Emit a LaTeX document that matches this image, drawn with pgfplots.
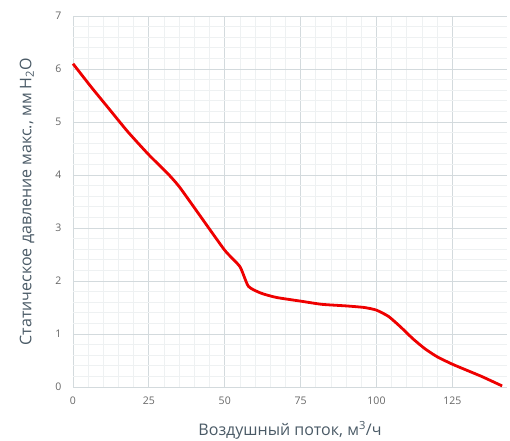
\documentclass[border=0pt]{standalone}
\usepackage{pgfplots}
\pgfplotsset{compat=1.18}
\usepackage{fontspec}
\setmainfont{Open Sans}
\definecolor{tickgray}{HTML}{666666}
\definecolor{labelslate}{HTML}{4A5A66}
\definecolor{gridmajor}{HTML}{D3DADD}
\definecolor{gridminor}{HTML}{EEF1F2}
\definecolor{curvered}{HTML}{EE0000}

\begin{document}
\begin{tikzpicture}
\useasboundingbox (-73bp,-54bp) rectangle (437bp,387bp);
\begin{axis}[
  scale only axis,
  width=434bp, height=371bp,
  xmin=0, xmax=143, ymin=0, ymax=7,
  xtick={0,25,50,75,100,125},
  ytick={0,1,2,3,4,5,6,7},
  minor x tick num=4,
  minor y tick num=4,
  grid=both,
  major grid style={gridmajor, line width=0.9bp},
  minor grid style={gridminor, line width=0.7bp},
  axis line style={draw=none},
  major tick length=0pt, minor tick length=0pt,
  /pgf/number format/assume math mode=true,
  tick label style={font=\fontsize{10.5bp}{12bp}\selectfont, text=tickgray},
  xticklabel style={yshift=-6bp},
  yticklabel style={xshift=-8bp},
  xlabel={Воздушный поток, м\textsuperscript{3}/ч},
  ylabel={Статическое давление макс., мм H\textsubscript{2}O},
  label style={font=\fontsize{16bp}{19bp}\selectfont, text=labelslate},
  xlabel style={at={(axis description cs:0.5,0)}, anchor=center, yshift=-43bp},
  ylabel style={at={(axis description cs:0,0.5)}, anchor=center, yshift=46bp},
  clip=false,
]
\addplot[curvered, line width=2.8bp, smooth, tension=0.35] coordinates {
(0, 6.10)
(6, 5.66)
(12, 5.24)
(18, 4.82)
(25, 4.38)
(31, 4.04)
(35, 3.78)
(42, 3.22)
(50, 2.58)
(55, 2.27)
(57.8, 1.90)
(62, 1.77)
(67, 1.69)
(75, 1.62)
(82, 1.56)
(90, 1.53)
(96, 1.50)
(100, 1.45)
(104, 1.33)
(108, 1.13)
(112, 0.91)
(116, 0.72)
(120, 0.57)
(125, 0.43)
(130, 0.31)
(135, 0.19)
(141.4, 0.02)
};
\end{axis}
\end{tikzpicture}
\end{document}
